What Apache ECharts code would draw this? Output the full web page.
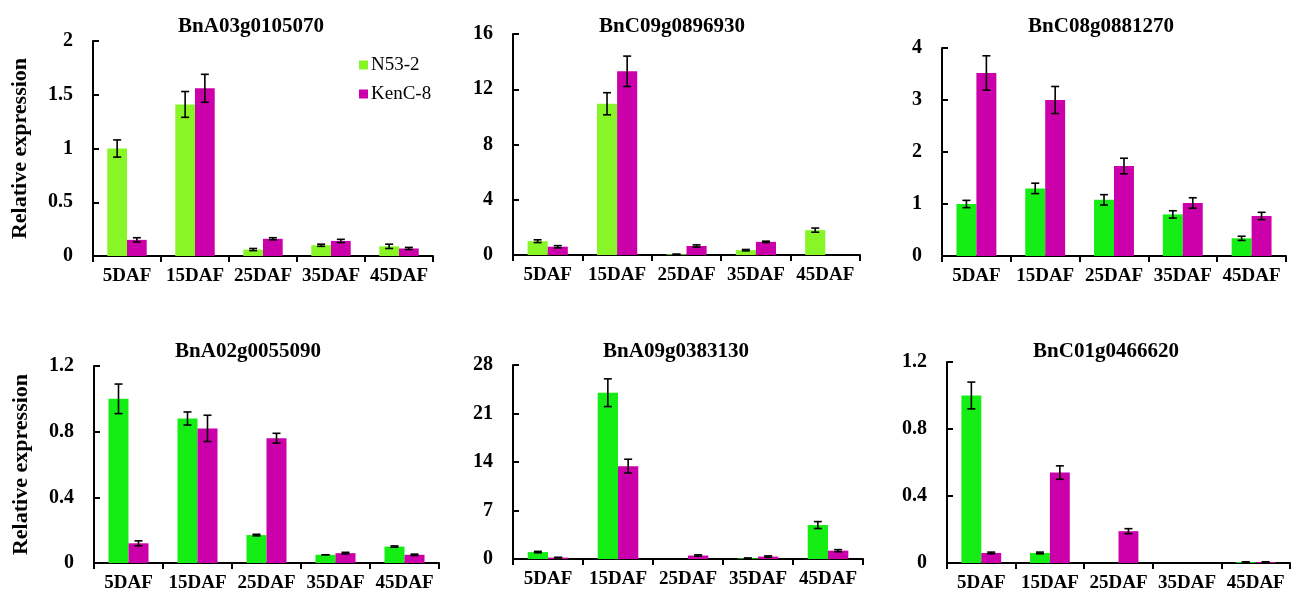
<!DOCTYPE html>
<html>
<head>
<meta charset="utf-8">
<script src="https://cdn.jsdelivr.net/npm/echarts@6/dist/echarts.min.js"></script>
<style>
  html, body { margin: 0; padding: 0; background: #fff; }
  #chart { width: 1294px; height: 597px; }
</style>
</head>
<body>
<div id="chart"></div>
<script>
const categories = ["5DAF", "15DAF", "25DAF", "35DAF", "45DAF"];
const genes = ["BnA03g0105070", "BnC09g0896930", "BnC08g0881270", "BnA02g0055090", "BnA09g0383130", "BnC01g0466620"];
const seriesNames = ["N53-2", "KenC-8"];

// y axis ticks per panel
const yMax = [2, 16, 4, 1.2, 28, 1.2];
const yStep = [0.5, 4, 1, 0.4, 7, 0.4];

// means and error bars, one row per panel
const n53Mean = [
  [1.0, 1.41, 0.06, 0.10, 0.09],
  [1.0, 10.95, 0.05, 0.35, 1.8],
  [1.0, 1.3, 1.08, 0.8, 0.34],
  [1.0, 0.88, 0.17, 0.05, 0.1],
  [1.0, 24.0, 0, 0.1, 4.9],
  [1.0, 0.06, 0, 0, 0.005],
];
const n53Err = [
  [0.08, 0.12, 0.01, 0.01, 0.02],
  [0.1, 0.8, 0, 0.05, 0.15],
  [0.07, 0.1, 0.1, 0.07, 0.04],
  [0.09, 0.04, 0.005, 0, 0.004],
  [0.1, 2.0, 0, 0.05, 0.5],
  [0.08, 0.005, 0, 0, 0.002],
];
const kenMean = [
  [0.15, 1.56, 0.16, 0.14, 0.07],
  [0.6, 13.3, 0.65, 0.95, 0],
  [3.52, 3.0, 1.73, 1.02, 0.77],
  [0.12, 0.82, 0.76, 0.06, 0.05],
  [0.2, 13.4, 0.5, 0.35, 1.2],
  [0.06, 0.54, 0.19, 0, 0.005],
];
const kenErr = [
  [0.02, 0.13, 0.01, 0.015, 0.01],
  [0.08, 1.1, 0.08, 0.05, 0],
  [0.33, 0.26, 0.15, 0.1, 0.07],
  [0.015, 0.08, 0.03, 0.005, 0.004],
  [0.05, 1.0, 0.1, 0.1, 0.15],
  [0.005, 0.04, 0.015, 0, 0.002],
];

const grids = [
  { left: 93, top: 41, width: 340, height: 215 },
  { left: 513, top: 34, width: 347, height: 221 },
  { left: 942, top: 48, width: 344, height: 208 },
  { left: 94, top: 366, width: 345, height: 197 },
  { left: 513, top: 365, width: 350, height: 194 },
  { left: 947, top: 362, width: 343, height: 201 },
];
const titlePos = [[246, 11], [667, 11], [1096, 11], [243, 336], [671, 336], [1101, 336]];
const greens = ["#88f526", "#88f526", "#14ee14", "#14ee14", "#14ee14", "#14ee14"];
const magenta = "#cc00aa";
const font = "'Liberation Serif', 'Times New Roman', serif";

const chart = echarts.init(document.getElementById("chart"));

function errorBars(sign) {
  return function (params, api) {
    const idx = api.value(0);
    const v = api.value(1);
    const e = api.value(2);
    if (v === 0 && e === 0) return null;
    const band = api.size([1, 0])[0];
    const x = api.coord([idx, 0])[0] + sign * band * 0.145;
    const top = api.coord([idx, v + e])[1];
    const bot = api.coord([idx, Math.max(v - e, 0)])[1];
    const cap = 4;
    const style = { stroke: "#000", lineWidth: 1.6 };
    return {
      type: "group",
      children: [
        { type: "line", shape: { x1: x, y1: top, x2: x, y2: bot }, style },
        { type: "line", shape: { x1: x - cap, y1: top, x2: x + cap, y2: top }, style },
        { type: "line", shape: { x1: x - cap, y1: bot, x2: x + cap, y2: bot }, style },
      ],
    };
  };
}

const series = [];
genes.forEach((gene, i) => {
  series.push({
    type: "bar", name: seriesNames[0], xAxisIndex: i, yAxisIndex: i,
    data: n53Mean[i], barWidth: "29%", barGap: "0%",
    itemStyle: { color: greens[i] }, silent: true,
  });
  series.push({
    type: "bar", name: seriesNames[1], xAxisIndex: i, yAxisIndex: i,
    data: kenMean[i], barWidth: "29%", barGap: "0%",
    itemStyle: { color: magenta }, silent: true,
  });
  series.push({
    type: "custom", xAxisIndex: i, yAxisIndex: i, z: 5, silent: true,
    renderItem: errorBars(-1),
    data: n53Mean[i].map((v, k) => [k, v, n53Err[i][k]]),
  });
  series.push({
    type: "custom", xAxisIndex: i, yAxisIndex: i, z: 5, silent: true,
    renderItem: errorBars(1),
    data: kenMean[i].map((v, k) => [k, v, kenErr[i][k]]),
  });
});

chart.setOption({
  backgroundColor: "#fff",
  animation: false,
  title: genes.map((gene, i) => ({
    text: gene,
    left: titlePos[i][0],
    top: titlePos[i][1],
    textAlign: "center",
    textStyle: { fontFamily: font, fontWeight: "bold", fontSize: 21, color: "#000" },
  })),
  legend: {
    data: seriesNames,
    orient: "vertical",
    left: 354,
    top: 50,
    icon: "rect",
    itemWidth: 9,
    itemHeight: 9,
    itemGap: 9,
    textStyle: { fontFamily: font, fontSize: 19, color: "#000", lineHeight: 20, padding: [0, 0, 0, -2] },
  },
  grid: grids.map((g) => ({ ...g, containLabel: false })),
  xAxis: genes.map((gene, i) => ({
    type: "category",
    gridIndex: i,
    data: categories,
    axisLine: { lineStyle: { color: "#000", width: 2 } },
    axisTick: { show: true, length: 6, lineStyle: { color: "#000", width: 2 } },
    axisLabel: { interval: 0, margin: 11, fontFamily: font, fontWeight: "bold", fontSize: 19, color: "#000" },
  })),
  yAxis: genes.map((gene, i) => ({
    type: "value",
    gridIndex: i,
    min: 0,
    max: yMax[i],
    interval: yStep[i],
    name: i % 3 === 0 ? "Relative expression" : "",
    nameLocation: "middle",
    nameRotate: 90,
    nameGap: 62,
    nameTextStyle: { fontFamily: font, fontWeight: "bold", fontSize: 22, color: "#000" },
    axisLine: { show: true, lineStyle: { color: "#000", width: 2 } },
    axisTick: { show: true, inside: true, length: 6, lineStyle: { color: "#000", width: 2 } },
    splitLine: { show: false },
    axisLabel: { margin: 20, fontFamily: font, fontWeight: "bold", fontSize: 20, color: "#000" },
  })),
  series,
});
</script>
</body>
</html>
